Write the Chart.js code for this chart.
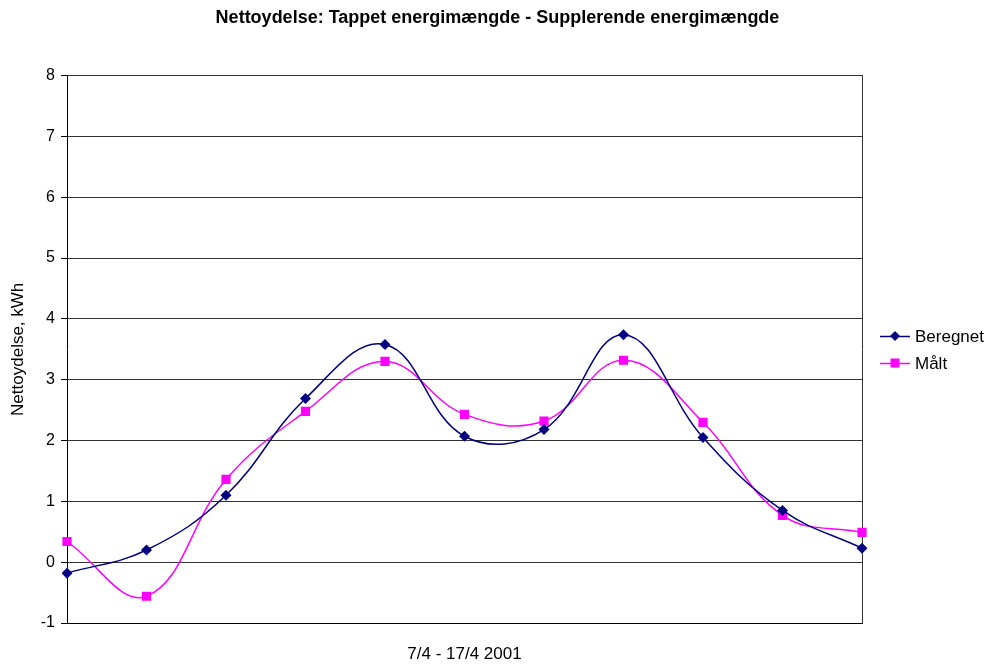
<!DOCTYPE html>
<html>
<head>
<meta charset="utf-8">
<script src="https://cdn.jsdelivr.net/npm/chart.js@4.4.1/dist/chart.umd.min.js"></script>
<style>
  html, body { margin:0; padding:0; background:#fff; }
  #wrap { position:relative; width:995px; height:667px; }
</style>
</head>
<body>
<div id="wrap"><canvas id="c" width="995" height="667"></canvas></div>
<script>
const days      = ['7/4','8/4','9/4','10/4','11/4','12/4','13/4','14/4','15/4','16/4','17/4'];
const beregnet  = [-0.18, 0.20, 1.10, 2.69, 3.58, 2.07, 2.18, 3.74, 2.05, 0.85, 0.23];
const maalt     = [ 0.34, -0.56, 1.36, 2.48, 3.30, 2.43, 2.32, 3.32, 2.30, 0.77, 0.49];
const yTicks    = [-1, 0, 1, 2, 3, 4, 5, 6, 7, 8];

const FONT = 'Arial, "Liberation Sans", sans-serif';

// legend drawn Excel style: short line with the marker in the middle
const lineLegend = {
  id: 'lineLegend',
  afterDraw(chart) {
    const { ctx } = chart;
    const x0 = 880, rows = [336, 363];
    ctx.save();
    chart.data.datasets.forEach((ds, i) => {
      const y = rows[i];
      ctx.strokeStyle = ds.borderColor;
      ctx.lineWidth = 1.5;
      ctx.beginPath();
      ctx.moveTo(x0, y + 0.5);
      ctx.lineTo(x0 + 30, y + 0.5);
      ctx.stroke();
      ctx.fillStyle = ds.backgroundColor;
      if (ds.pointStyle === 'rectRot') {
        const r = 5;
        ctx.beginPath();
        ctx.moveTo(x0 + 15, y - r); ctx.lineTo(x0 + 15 + r, y);
        ctx.lineTo(x0 + 15, y + r); ctx.lineTo(x0 + 15 - r, y);
        ctx.closePath(); ctx.fill();
      } else {
        ctx.fillRect(x0 + 15 - 4.5, y - 4.5, 9, 9);
      }
      ctx.fillStyle = '#000';
      ctx.font = '17px ' + FONT;
      ctx.textBaseline = 'middle';
      ctx.fillText(ds.label, x0 + 35, y + 1);
    });
    ctx.restore();
  }
};

new Chart(document.getElementById('c'), {
  type: 'line',
  data: {
    labels: days,
    datasets: [
      { label: 'Beregnet', data: beregnet, borderColor: '#000080', backgroundColor: '#000080',
        borderWidth: 1.5, tension: 0.4, pointStyle: 'rectRot', pointRadius: 5.5, pointBorderWidth: 0 },
      { label: 'Målt', data: maalt, borderColor: '#ff00ff', backgroundColor: '#ff00ff',
        borderWidth: 1.5, tension: 0.4, pointStyle: 'rect', pointRadius: 6.5, pointBorderWidth: 0 }
    ]
  },
  options: {
    responsive: false,
    animation: false,
    layout: { padding: 0 },
    plugins: {
      legend: { display: false },
      tooltip: { enabled: false },
      title: {
        display: true,
        text: 'Nettoydelse: Tappet energimængde - Supplerende energimængde',
        color: '#000',
        font: { family: FONT, size: 18, weight: 'bold' },
        padding: { top: 7, bottom: 47 }
      }
    },
    scales: {
      x: {
        offset: false,
        ticks: { display: false },
        grid: { display: false, drawTicks: false },
        border: { display: true, color: '#000', width: 1 },
        title: { display: true, text: '7/4 - 17/4 2001', color: '#000',
                 font: { family: FONT, size: 17 }, padding: { top: 0, bottom: 2 } },
        afterFit(s) { s.height = 44; }
      },
      y: {
        min: -1, max: 8,
        afterBuildTicks(s) { s.ticks = yTicks.map(v => ({ value: v })); },
        ticks: { color: '#000', font: { family: FONT, size: 16 }, padding: 6 },
        grid: { color: '#333', lineWidth: 1, tickLength: 6, tickColor: '#000' },
        border: { display: true, color: '#000', width: 1 },
        title: { display: true, text: 'Nettoydelse, kWh', color: '#000',
                 font: { family: FONT, size: 17 }, padding: { top: 8, bottom: 0 } },
        afterFit(s) { s.width = 67; }
      },
      // empty right axis: gives the plot frame its right edge and keeps room for the legend
      y2: {
        position: 'right',
        min: -1, max: 8,
        ticks: { display: false },
        grid: { display: false, drawTicks: false },
        border: { display: true, color: '#333', width: 1 },
        afterFit(s) { s.width = 133; }
      }
    }
  },
  plugins: [lineLegend]
});
</script>
</body>
</html>
